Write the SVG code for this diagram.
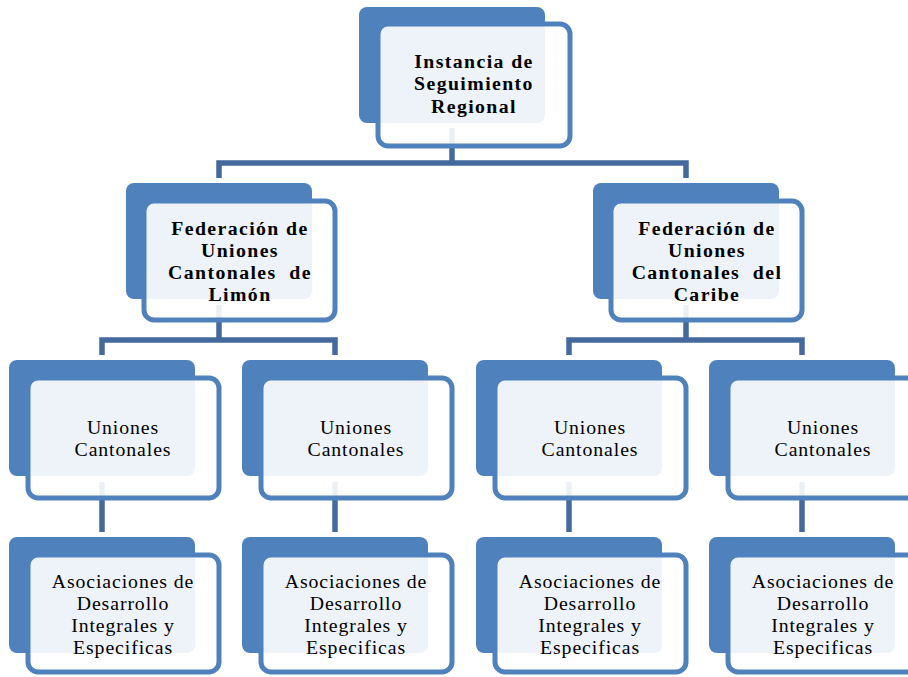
<svg xmlns="http://www.w3.org/2000/svg" width="908" height="677" viewBox="0 0 908 677">
<style>
.back{fill:#4F81BD}
.front{fill:#FFFFFF;fill-opacity:0.9;stroke:#4F81BD;stroke-width:5}
.conn{fill:none;stroke:#44699D;stroke-width:5.5;stroke-linejoin:miter}
text{font-family:"Liberation Serif","DejaVu Serif",serif;font-size:19.8px;letter-spacing:0.9px;fill:#000;text-anchor:middle}
.b{font-weight:bold;letter-spacing:1.4px}
</style>
<rect width="908" height="677" fill="#FFFFFF"/>
<g id="connectors">
<path class="conn" d="M452,128 V163"/>
<path class="conn" d="M219,178 V163 H686 V178"/>
<path class="conn" d="M219,305 V340"/>
<path class="conn" d="M102,355 V340 H335 V355"/>
<path class="conn" d="M686,305 V340"/>
<path class="conn" d="M569,355 V340 H802 V355"/>
<path class="conn" d="M102,482 V532"/>
<path class="conn" d="M335,482 V532"/>
<path class="conn" d="M569,482 V532"/>
<path class="conn" d="M802,482 V532"/>
</g>
<g id="n-instancia">
<rect class="back" x="359" y="7" width="186" height="116" rx="8"/>
<rect class="front" x="378" y="24" width="192" height="122" rx="10"/>
<text class="b" x="474" y="68">Instancia de</text>
<text class="b" x="474" y="90">Seguimiento</text>
<text class="b" x="474" y="113">Regional</text>
</g>
<g id="n-fed-limon">
<rect class="back" x="126" y="183" width="186" height="116" rx="8"/>
<rect class="front" x="144" y="201" width="191" height="119" rx="10"/>
<text class="b" x="240" y="235">Federación de</text>
<text class="b" x="240" y="257">Uniones</text>
<text class="b" x="240" y="279" xml:space="preserve">Cantonales  de</text>
<text class="b" x="240" y="301">Limón</text>
</g>
<g id="n-fed-caribe">
<rect class="back" x="593" y="183" width="186" height="116" rx="8"/>
<rect class="front" x="611" y="201" width="191" height="119" rx="10"/>
<text class="b" x="707" y="235">Federación de</text>
<text class="b" x="707" y="257">Uniones</text>
<text class="b" x="707" y="279" xml:space="preserve">Cantonales  del</text>
<text class="b" x="707" y="301">Caribe</text>
</g>
<g id="n-union-1">
<rect class="back" x="9" y="360" width="186" height="116" rx="8"/>
<rect class="front" x="28" y="378" width="191" height="120" rx="10"/>
<text x="123" y="434">Uniones</text>
<text x="123" y="456">Cantonales</text>
</g>
<g id="n-union-2">
<rect class="back" x="242" y="360" width="186" height="116" rx="8"/>
<rect class="front" x="261" y="378" width="191" height="120" rx="10"/>
<text x="356" y="434">Uniones</text>
<text x="356" y="456">Cantonales</text>
</g>
<g id="n-union-3">
<rect class="back" x="476" y="360" width="186" height="116" rx="8"/>
<rect class="front" x="495" y="378" width="191" height="120" rx="10"/>
<text x="590" y="434">Uniones</text>
<text x="590" y="456">Cantonales</text>
</g>
<g id="n-union-4">
<rect class="back" x="709" y="360" width="186" height="116" rx="8"/>
<rect class="front" x="728" y="378" width="191" height="120" rx="10"/>
<text x="823" y="434">Uniones</text>
<text x="823" y="456">Cantonales</text>
</g>
<g id="n-asoc-1">
<rect class="back" x="9" y="537" width="186" height="116" rx="8"/>
<rect class="front" x="28" y="555" width="191" height="117" rx="10"/>
<text x="123" y="588">Asociaciones de</text>
<text x="123" y="610">Desarrollo</text>
<text x="123" y="632">Integrales y</text>
<text x="123" y="654">Especificas</text>
</g>
<g id="n-asoc-2">
<rect class="back" x="242" y="537" width="186" height="116" rx="8"/>
<rect class="front" x="261" y="555" width="191" height="117" rx="10"/>
<text x="356" y="588">Asociaciones de</text>
<text x="356" y="610">Desarrollo</text>
<text x="356" y="632">Integrales y</text>
<text x="356" y="654">Especificas</text>
</g>
<g id="n-asoc-3">
<rect class="back" x="476" y="537" width="186" height="116" rx="8"/>
<rect class="front" x="495" y="555" width="191" height="117" rx="10"/>
<text x="590" y="588">Asociaciones de</text>
<text x="590" y="610">Desarrollo</text>
<text x="590" y="632">Integrales y</text>
<text x="590" y="654">Especificas</text>
</g>
<g id="n-asoc-4">
<rect class="back" x="709" y="537" width="186" height="116" rx="8"/>
<rect class="front" x="728" y="555" width="191" height="117" rx="10"/>
<text x="823" y="588">Asociaciones de</text>
<text x="823" y="610">Desarrollo</text>
<text x="823" y="632">Integrales y</text>
<text x="823" y="654">Especificas</text>
</g>
</svg>
